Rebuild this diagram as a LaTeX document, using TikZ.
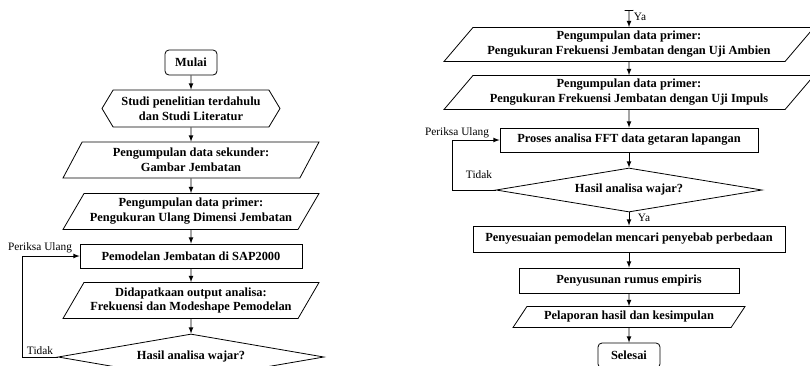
\documentclass[tikz,border=0pt]{standalone}
\usepackage{fontspec}
\setmainfont{Liberation Serif}
\usepackage{tikz}
\usetikzlibrary{shapes.geometric,shapes.symbols}

\begin{document}
\begin{tikzpicture}[x=0.75pt,y=0.75pt,yscale=-1,xscale=1,line width=0.6pt,
  every node/.style={font=\bfseries\fontsize{9.3}{11.2}\selectfont,align=center,inner sep=1pt},
  term/.style={draw,rounded corners=3pt,minimum width=39pt,minimum height=18.75pt},
  proc/.style={draw,rectangle},
  prep/.style={draw,signal,signal to=west and east,signal pointer angle=118},
  io/.style={draw,trapezium,trapezium stretches body},
  decide/.style={draw,diamond,inner sep=0pt,aspect=10,minimum width=199.5pt},
  lbl/.style={font=\fontsize{8.5}{10}\selectfont,inner sep=0pt},
  flow/.style={-latex}]

\useasboundingbox (0,0) rectangle (810,365);
\clip (0,0) rectangle (810,365);

% kolom kiri

\draw (191,62.5) node [term] (mulai) {Mulai};

\draw (191,108.5) node [prep,minimum width=133.5pt,minimum height=27.75pt] (studi) {Studi penelitian terdahulu\\dan Studi Literatur};

\draw (191,160) node [io,trapezium left angle=54,trapezium right angle=126,minimum width=192pt,minimum height=27pt] (sekunder) {Pengumpulan data sekunder:\\Gambar Jembatan};

\draw (191,211.5) node [io,trapezium left angle=54,trapezium right angle=126,minimum width=192pt,minimum height=27pt] (primer) {Pengumpulan data primer:\\Pengukuran Ulang Dimensi Jembatan};

\draw (191,256) node [proc,minimum width=166.5pt,minimum height=18pt] (model) {Pemodelan Jembatan di SAP2000};

\draw (191,300.5) node [io,trapezium left angle=54,trapezium right angle=126,minimum width=192pt,minimum height=27pt] (output) {Didapatkaan output analisa:\\Frekuensi dan Modeshape Pemodelan};

\draw (191,357) node [decide,minimum height=34.5pt] (cekA) {Hasil analisa wajar?};

\draw [flow] (mulai) -- (studi);
\draw [flow] (studi) -- (sekunder);
\draw [flow] (sekunder) -- (primer);
\draw [flow] (primer) -- (model);
\draw [flow] (model) -- (output);
\draw [flow] (output) -- (cekA);
\draw [flow] (cekA.west) -- ++(-35,0) |- (model.west);

\draw (40,248) node [lbl] (ulangA) {Periksa Ulang};
\draw (40,351) node [lbl] (tidakA) {Tidak};

% kolom kanan

\coordinate (lanjut) at (629,10);

\draw (629,44.5) node [io,trapezium left angle=45,trapezium right angle=135,minimum width=277.5pt,minimum height=25.5pt] (ambien) {Pengumpulan data primer:\\Pengukuran Frekuensi Jembatan dengan Uji Ambien};

\draw (629,92.5) node [io,trapezium left angle=45,trapezium right angle=135,minimum width=277.5pt,minimum height=25.5pt] (impuls) {Pengumpulan data primer:\\Pengukuran Frekuensi Jembatan dengan Uji Impuls};

\draw (629,140) node [proc,minimum width=193.5pt,minimum height=18pt] (fft) {Proses analisa FFT data getaran lapangan};

\draw (629,190) node [decide,minimum height=33pt] (cekB) {Hasil analisa wajar?};

\draw (629,239) node [proc,minimum width=234pt,minimum height=19.5pt] (sesuai) {Penyesuaian pemodelan mencari penyebab perbedaan};

\draw (629,280.5) node [proc,minimum width=165pt,minimum height=18.75pt] (rumus) {Penyusunan rumus empiris};

\draw (629,317) node [io,trapezium left angle=45,trapezium right angle=135,minimum width=174pt,minimum height=15.75pt] (lapor) {Pelaporan hasil dan kesimpulan};

\draw (629,355.5) node [term,minimum width=46.5pt] (selesai) {Selesai};

\draw [|-latex] (lanjut) -- (ambien);
\draw [flow] (ambien) -- (impuls);
\draw [flow] (impuls) -- (fft);
\draw [flow] (fft) -- (cekB);
\draw [flow] (cekB) -- (sesuai);
\draw [flow] (sesuai) -- (rumus);
\draw [flow] (rumus) -- (lapor);
\draw [flow] (lapor) -- (selesai);
\draw [flow] (cekB.west) -- ++(-43,0) |- (fft.west);

\draw (640,17) node [lbl] (yaA) {Ya};
\draw (644,218) node [lbl] (yaB) {Ya};
\draw (457,133) node [lbl] (ulangB) {Periksa Ulang};
\draw (479,175) node [lbl] (tidakB) {Tidak};

\end{tikzpicture}
\end{document}
